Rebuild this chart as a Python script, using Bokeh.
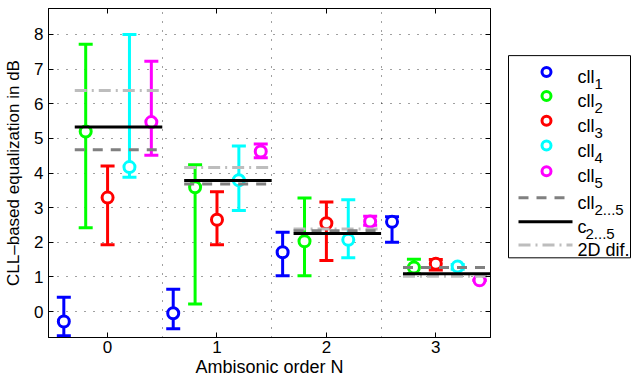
from bokeh.plotting import figure
from bokeh.models import Range1d, FixedTicker, LinearAxis, CustomJSTickFormatter
from bokeh.layouts import row
from bokeh.embed import file_html
from bokeh.resources import INLINE
from bokeh.core.properties import value

# ---------------- data ----------------
orders = [0, 1, 2, 3]
y_ticks = [0, 1, 2, 3, 4, 5, 6, 7, 8]
group_bounds = [0.5, 1.5, 2.5]

cll_colors = ["#0000FF", "#00FF00", "#FF0000", "#00FFFF", "#FF00FF"]
cll_offsets = [-0.4, -0.2, 0.0, 0.2, 0.4]

cll1_mean = [-0.29, -0.05, 1.71, 2.59]
cll1_lo = [-0.70, -0.50, 1.03, 2.00]
cll1_hi = [0.41, 0.64, 2.29, 2.74]

cll2_mean = [5.20, 3.59, 2.03, 1.27]
cll2_lo = [2.42, 0.22, 1.03, 1.10]
cll2_hi = [7.72, 4.24, 3.28, 1.51]

cll3_mean = [3.29, 2.65, 2.55, 1.38]
cll3_lo = [1.93, 1.93, 1.47, 1.20]
cll3_hi = [4.20, 3.46, 3.16, 1.50]

cll4_mean = [4.17, 3.79, 2.07, 1.30]
cll4_lo = [3.88, 2.92, 1.55, 1.22]
cll4_hi = [8.00, 4.78, 3.23, 1.36]

cll5_mean = [5.47, 4.62, 2.60, 0.90]
cll5_lo = [4.51, 4.44, 2.49, 0.90]
cll5_hi = [7.23, 4.84, 2.75, 0.90]

cll25_mean = [4.67, 3.68, 2.33, 1.27]
c25_mean = [5.33, 3.78, 2.25, 1.09]
dif2d_mean = [6.38, 4.16, 2.38, 1.02]

means = [cll1_mean, cll2_mean, cll3_mean, cll4_mean, cll5_mean]
los = [cll1_lo, cll2_lo, cll3_lo, cll4_lo, cll5_lo]
his = [cll1_hi, cll2_hi, cll3_hi, cll4_hi, cll5_hi]

FONT = "Liberation Sans"

# ---------------- main plot ----------------
W, H = 500, 384
p = figure(width=W, height=H, x_range=Range1d(-0.54, 3.5), y_range=Range1d(-0.75, 8.75),
           output_backend="svg", toolbar_location=None,
           min_border_left=48, min_border_right=10, min_border_top=8, min_border_bottom=47)
p.background_fill_color = "white"
p.border_fill_color = "white"
p.outline_line_color = "black"
p.outline_line_width = 1

for ax in (p.xaxis[0], p.yaxis[0]):
    ax.major_tick_in = 5
    ax.major_tick_out = 0
    ax.minor_tick_line_color = None
    ax.axis_line_color = "black"
    ax.major_tick_line_color = "black"
    ax.major_label_text_font = FONT
    ax.major_label_text_font_size = "17px"
    ax.major_label_text_color = "black"
    ax.axis_label_text_font = FONT
    ax.axis_label_text_font_style = "normal"
    ax.axis_label_text_color = "black"
p.xaxis.axis_label_text_font_size = "18px"
p.yaxis.axis_label_text_font_size = "17px"
p.xaxis.ticker = FixedTicker(ticks=orders)
p.yaxis.ticker = FixedTicker(ticks=y_ticks)
p.xaxis.axis_label = "Ambisonic order N"
p.yaxis.axis_label = "CLL\u2013based equalization in dB"
p.xaxis.major_label_standoff = 3
p.xaxis.axis_label_standoff = 1
p.yaxis.major_label_standoff = 5
p.yaxis.axis_label_standoff = 8

blank = CustomJSTickFormatter(code="return ''")
top_ax = LinearAxis(ticker=FixedTicker(ticks=orders), formatter=blank,
                    major_label_text_font_size="1px",
                    major_tick_in=5, major_tick_out=0, minor_tick_line_color=None,
                    major_label_standoff=0, axis_line_color="black")
right_ax = LinearAxis(ticker=FixedTicker(ticks=y_ticks), formatter=blank,
                      major_label_text_font_size="1px",
                      major_tick_in=5, major_tick_out=0, minor_tick_line_color=None,
                      major_label_standoff=0, axis_line_color="black")
p.add_layout(top_ax, "above")
p.add_layout(right_ax, "right")

p.xgrid.ticker = FixedTicker(ticks=group_bounds)
p.ygrid.ticker = FixedTicker(ticks=y_ticks)
for g in (p.xgrid[0], p.ygrid[0]):
    g.grid_line_color = "#000000"
    g.grid_line_alpha = 0.75
    g.grid_line_dash = "1 8"
    g.grid_line_width = 1

# error bars with markers
for mean, lo, hi, col, off in zip(means, los, his, cll_colors, cll_offsets):
    xs = [o + off for o in orders]
    p.segment(x0=xs, y0=lo, x1=xs, y1=hi, line_color=col, line_width=3)
    p.scatter(x=xs + xs, y=lo + hi, marker="dash", size=14, line_color=col, line_width=3)
    p.scatter(x=xs, y=mean, marker="circle", size=11, line_color=col, line_width=3,
              fill_color="white")

# mean lines per order (span cll2..cll5)
x_start = [o - 0.3 for o in orders]
x_end = [o + 0.5 for o in orders]
p.segment(x0=x_start, y0=dif2d_mean, x1=x_end, y1=dif2d_mean, line_color="#BDBDBD",
          line_width=3, line_dash="12 5 2 5")
p.segment(x0=x_start, y0=cll25_mean, x1=x_end, y1=cll25_mean, line_color="#808080",
          line_width=3, line_dash="10 8")
p.segment(x0=x_start, y0=c25_mean, x1=x_end, y1=c25_mean, line_color="black",
          line_width=3)

# ---------------- legend (separate panel, pixel coordinates) ----------------
LW = 133
lg = figure(width=LW, height=H, x_range=Range1d(0, LW), y_range=Range1d(H, 0),
            output_backend="svg", toolbar_location=None, min_border=0)
lg.axis.visible = False
lg.grid.visible = False
lg.outline_line_color = None
lg.border_fill_color = "white"

legend_main = ["cll", "cll", "cll", "cll", "cll", "cll", "c", "2D dif."]
legend_sub = ["1", "2", "3", "4", "5", "2...5", "2...5", ""]
entry_y = [74, 102, 131, 160, 190, 221, 249, 276]

lg.quad(left=[8], right=[130], top=[55], bottom=[291], fill_color="white",
        line_color="black", line_width=1)
lg.scatter(x=[46] * 5, y=entry_y[:5], marker="circle", size=9, line_width=3,
           line_color=cll_colors, fill_color="white")
lg.segment(x0=[18], y0=[entry_y[5]], x1=[72], y1=[entry_y[5]], line_color="#808080",
           line_width=3, line_dash="10 8")
lg.segment(x0=[18], y0=[entry_y[6]], x1=[72], y1=[entry_y[6]], line_color="black",
           line_width=3)
lg.segment(x0=[18], y0=[entry_y[7]], x1=[72], y1=[entry_y[7]], line_color="#BDBDBD",
           line_width=3, line_dash="12 5 2 5")

lg.text(x=[77] * 8, y=[yy + 6 for yy in entry_y], text=legend_main,
        text_font=value(FONT), text_font_size="18px", text_baseline="alphabetic",
        text_align="left", text_color="black")
sub_x = [94, 94, 94, 94, 94, 94, 85, 0]
lg.text(x=sub_x[:7], y=[yy + 14 for yy in entry_y[:7]], text=legend_sub[:7],
        text_font=value(FONT), text_font_size="15px", text_baseline="alphabetic",
        text_align="left", text_color="black")

layout = row(p, lg)
open("out.html", "w").write(file_html(layout, INLINE))
